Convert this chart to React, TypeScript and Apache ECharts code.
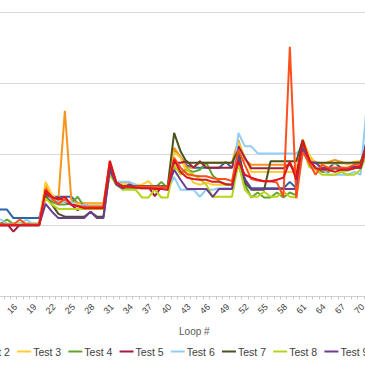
import React, { useEffect, useRef } from "react";
import * as echarts from "echarts";

const loops = [
  "13", "14", "15", "16", "17", "18", "19", "20", "21", "22", "23", "24", "25", "26", "27",
  "28", "29", "30", "31", "32", "33", "34", "35", "36", "37", "38", "39", "40", "41", "42",
  "43", "44", "45", "46", "47", "48", "49", "50", "51", "52", "53", "54", "55", "56", "57",
  "58", "59", "60", "61", "62", "63", "64", "65", "66", "67", "68", "69", "70", "71", "72",
];

const test1 = [
  12.2, 12.2, 12.2, 12.2, 11.0, 11.0, 11.0, 11.0, 11.0,
  14.5, 14.0, 14.0, 14.0, 14.0, 13.1, 12.7, 12.7, 12.7, 12.7,
  18.1, 16.0, 15.5, 15.5, 15.5, 15.5, 15.5, 15.5, 15.5, 15.0,
  20.6, 19.6, 18.4, 18.1, 18.1, 18.1, 18.1, 18.1, 18.9, 18.1,
  20.1, 16.5, 15.2, 15.2, 15.2, 15.2, 15.2, 15.2, 16.1, 15.2,
  21.6, 19.2, 18.0, 18.0, 18.0, 18.8, 18.0, 18.0, 18.0, 18.3, 22.0,
];
const test2 = [
  10.2, 10.2, 10.2, 10.2, 10.2, 10.2, 10.2, 10.2, 10.2,
  15.7, 13.8, 13.8, 26.1, 13.6, 13.1, 13.1, 13.1, 13.1, 13.1,
  18.8, 16.0, 16.0, 16.0, 15.4, 15.4, 15.4, 15.4, 15.4, 15.4,
  20.9, 19.6, 18.1, 18.1, 18.8, 18.8, 18.8, 18.8, 18.8, 18.8,
  22.0, 19.2, 18.5, 18.5, 18.5, 18.5, 18.5, 18.5, 18.5, 17.8,
  22.0, 19.5, 18.9, 18.6, 18.9, 19.2, 18.9, 18.6, 18.9, 19.0, 20.5,
];
const test3 = [
  10.1, 10.1, 10.1, 10.1, 10.1, 10.1, 10.1, 10.1, 10.1,
  16.1, 14.3, 13.4, 13.4, 12.9, 12.9, 12.9, 12.9, 12.9, 12.9,
  18.5, 15.7, 15.7, 15.7, 15.7, 15.7, 16.2, 15.2, 15.2, 15.2,
  20.3, 19.5, 17.3, 16.0, 15.7, 16.0, 15.7, 15.7, 15.7, 15.7,
  21.7, 19.5, 17.5, 17.5, 17.5, 17.5, 17.5, 17.5, 17.5, 17.5,
  22.1, 19.9, 18.7, 18.7, 18.7, 18.7, 18.7, 18.7, 18.7, 18.7, 21.0,
];
const test4 = [
  10.2, 10.2, 10.2, 10.8, 10.2, 10.2, 10.2, 10.2, 10.2,
  14.3, 13.3, 12.9, 12.9, 13.1, 14.0, 12.6, 12.6, 12.6, 12.6,
  17.5, 15.8, 15.2, 15.2, 15.2, 15.2, 15.2, 15.2, 16.1, 15.2,
  18.2, 17.5, 17.8, 17.5, 17.8, 18.8, 17.0, 16.2, 15.7, 15.7,
  18.5, 15.7, 13.9, 14.6, 13.9, 13.9, 14.6, 13.9, 14.6, 14.2,
  21.3, 18.5, 18.0, 17.5, 17.5, 18.0, 17.7, 17.7, 18.0, 18.3, 21.0,
];
const test5 = [
  10.2, 10.2, 10.2, 10.2, 9.1, 10.1, 10.1, 10.1, 10.1,
  14.6, 13.6, 13.9, 13.3, 12.9, 12.1, 12.9, 12.6, 12.6, 12.6,
  18.3, 16.0, 15.2, 15.7, 15.4, 15.4, 15.4, 14.1, 15.4, 15.4,
  18.8, 18.8, 19.0, 18.1, 19.0, 18.1, 18.1, 18.1, 18.1, 18.1,
  21.1, 19.5, 18.0, 18.0, 18.0, 18.0, 18.0, 18.0, 18.6, 17.0,
  21.6, 19.2, 18.1, 18.1, 18.0, 18.1, 18.1, 18.0, 18.1, 18.1, 22.0,
];
const test6 = [
  10.8, 10.8, 10.8, 10.2, 10.2, 10.2, 10.8, 10.2, 10.2,
  14.0, 13.6, 13.3, 13.3, 13.3, 12.6, 12.9, 12.7, 12.7, 12.7,
  17.4, 16.1, 16.1, 16.1, 15.7, 15.2, 15.2, 15.2, 15.2, 15.0,
  16.8, 15.0, 15.0, 15.0, 14.0, 15.0, 15.0, 15.2, 15.2, 15.2,
  23.0, 21.1, 21.1, 20.1, 20.1, 20.1, 20.1, 20.1, 20.1, 20.1,
  20.9, 18.8, 18.0, 18.0, 17.1, 17.1, 17.1, 17.1, 17.5, 17.1, 27.3,
];
const test7 = [
  10.0, 10.0, 10.0, 10.0, 10.0, 10.0, 10.0, 10.0, 10.0,
  14.1, 12.9, 11.6, 11.2, 11.2, 11.2, 11.2, 11.9, 11.2, 11.2,
  17.9, 16.0, 15.5, 15.5, 15.5, 15.5, 15.5, 15.5, 15.5, 15.5,
  23.0, 20.4, 18.8, 18.8, 18.8, 18.8, 18.8, 18.8, 18.8, 18.8,
  20.6, 16.0, 15.0, 15.0, 15.0, 19.0, 19.0, 19.0, 19.0, 19.0,
  22.0, 18.9, 18.8, 18.8, 18.8, 18.8, 18.8, 18.8, 18.8, 18.8, 21.5,
];
const test8 = [
  10.1, 10.1, 10.1, 10.1, 10.1, 10.1, 10.1, 10.1, 10.1,
  13.8, 12.9, 12.3, 12.3, 12.3, 12.3, 12.3, 12.3, 12.3, 12.3,
  17.1, 15.7, 15.0, 15.0, 15.0, 13.9, 13.9, 15.0, 13.9, 13.9,
  18.5, 17.1, 17.8, 17.1, 16.5, 15.7, 14.0, 14.0, 14.0, 14.0,
  18.7, 15.0, 14.0, 14.0, 14.7, 14.0, 14.0, 14.7, 14.0, 13.9,
  21.0, 18.2, 17.8, 17.1, 17.1, 17.1, 17.5, 17.1, 17.1, 17.8, 20.0,
];
const test9 = [
  10.0, 10.0, 10.0, 10.0, 10.0, 10.0, 10.0, 10.0, 10.0,
  13.0, 11.9, 11.0, 11.0, 11.0, 11.0, 11.0, 11.9, 11.0, 11.0,
  17.8, 15.7, 15.2, 15.7, 15.4, 15.4, 15.4, 15.4, 15.4, 15.4,
  17.8, 16.4, 15.1, 15.1, 15.1, 15.1, 14.0, 15.1, 15.1, 15.1,
  19.7, 16.4, 15.1, 15.1, 15.1, 15.1, 15.1, 15.1, 15.1, 15.1,
  20.9, 18.8, 18.8, 18.0, 18.0, 18.0, 18.0, 18.0, 18.3, 18.0, 21.0,
];
const test10 = [
  10.1, 10.1, 10.1, 10.1, 10.1, 10.8, 10.1, 10.1, 10.1,
  15.1, 13.7, 13.0, 13.7, 12.9, 12.7, 12.6, 12.6, 12.6, 12.6,
  19.1, 16.0, 15.4, 15.4, 15.4, 15.4, 15.4, 15.4, 15.4, 15.4,
  19.5, 18.1, 17.2, 17.0, 16.9, 16.9, 16.6, 16.5, 16.5, 16.2,
  20.6, 18.5, 16.5, 16.3, 16.2, 16.2, 16.0, 14.0, 35.1, 13.8,
  20.3, 18.8, 17.1, 18.5, 18.1, 18.1, 18.1, 18.1, 18.5, 18.5, 21.0,
];
const test11 = [
  10.0, 10.0, 10.0, 10.0, 10.0, 10.0, 10.0, 10.0, 10.0,
  14.9, 14.0, 13.6, 14.0, 12.9, 12.7, 12.4, 12.4, 12.4, 12.4,
  19.0, 16.0, 15.4, 15.4, 15.3, 15.2, 15.2, 15.1, 15.1, 15.0,
  19.2, 17.5, 16.7, 16.5, 16.4, 16.4, 16.1, 16.1, 15.8, 15.7,
  19.0, 17.1, 16.7, 16.4, 16.2, 16.2, 16.4, 16.7, 19.0, 16.4,
  21.9, 19.2, 18.0, 17.8, 17.8, 17.5, 17.8, 17.8, 18.0, 18.3, 21.5,
];

const seriesNames = [
  "Test 1", "Test 2", "Test 3", "Test 4", "Test 5", "Test 6",
  "Test 7", "Test 8", "Test 9", "Test 10", "Test 11",
];
const seriesColors = [
  "#2b65a5", "#f7941d", "#ffcc33", "#5fa52d", "#a31d3c", "#92cdf7",
  "#4b5320", "#b9d31a", "#6b3d8f", "#ff4f1a", "#e0141e",
];
const yTicks = { min: 0, max: 40, interval: 10 };

export default function App() {
  const ref = useRef<HTMLDivElement>(null);
  useEffect(() => {
    if (!ref.current) return;
    const chart = echarts.init(ref.current, undefined, { renderer: "svg" });
    const data = [test1, test2, test3, test4, test5, test6, test7, test8, test9, test10, test11];
    const font = "Liberation Sans, Arial, sans-serif";
    const chartWidth = 720;
    chart.setOption({
      animation: false,
      textStyle: { fontFamily: font },
      grid: [
        { left: 104.5, right: chartWidth - 490.2, top: 12, bottom: 68.7 },
        { left: 113.2, right: chartWidth - 498.9, top: 12, bottom: 68.7 },
      ],
      xAxis: [
        {
          type: "category",
          gridIndex: 0,
          data: loops,
          boundaryGap: true,
          axisLine: { lineStyle: { color: "#d0d0d0", width: 1 } },
          axisTick: { show: true, interval: 0, length: 3, lineStyle: { color: "#c8c8c8" } },
          axisLabel: { show: false },
          splitLine: { show: false },
          name: "Loop #",
          nameLocation: "middle",
          nameGap: 30,
          nameTextStyle: { fontSize: 10, color: "#595959", padding: [0, 0, 0, 34], fontFamily: font },
        },
        {
          type: "category",
          gridIndex: 1,
          data: loops,
          boundaryGap: true,
          axisLine: { show: false },
          axisTick: { show: false },
          splitLine: { show: false },
          axisLabel: {
            interval: (index: number) => index > 0 && index % 3 === 0,
            rotate: 45,
            margin: 9,
            fontSize: 9,
            color: "#404040",
            fontFamily: font,
          },
        },
      ],
      yAxis: [
        {
          type: "value",
          gridIndex: 0,
          min: yTicks.min,
          max: yTicks.max,
          interval: yTicks.interval,
          axisLine: { show: false },
          axisTick: { show: false },
          axisLabel: { show: false },
          splitLine: { lineStyle: { color: "#d9d9d9", width: 1 } },
        },
        {
          type: "value",
          gridIndex: 1,
          min: yTicks.min,
          max: yTicks.max,
          show: false,
          splitLine: { show: false },
        },
      ],
      legend: {
        data: seriesNames,
        left: 29.7,
        top: 341,
        width: 660,
        icon: "rect",
        itemWidth: 14,
        itemHeight: 2,
        itemGap: 7.2,
        textStyle: { fontSize: 10.5, color: "#404040", fontFamily: font, padding: [0, 0, 0, -3] },
      },
      series: seriesNames.map((name, i) => ({
        name,
        type: "line",
        xAxisIndex: 0,
        yAxisIndex: 0,
        data: data[i],
        symbol: "none",
        showSymbol: false,
        color: seriesColors[i],
        lineStyle: { width: 2, color: seriesColors[i] },
      })),
    });
    return () => chart.dispose();
  }, []);
  return (
    <div
      style={{
        position: "fixed",
        left: 0,
        top: 0,
        width: 365,
        height: 365,
        overflow: "hidden",
        background: "#ffffff",
      }}
    >
      <div ref={ref} style={{ position: "absolute", left: -120, top: 0, width: 720, height: 365 }} />
    </div>
  );
}
